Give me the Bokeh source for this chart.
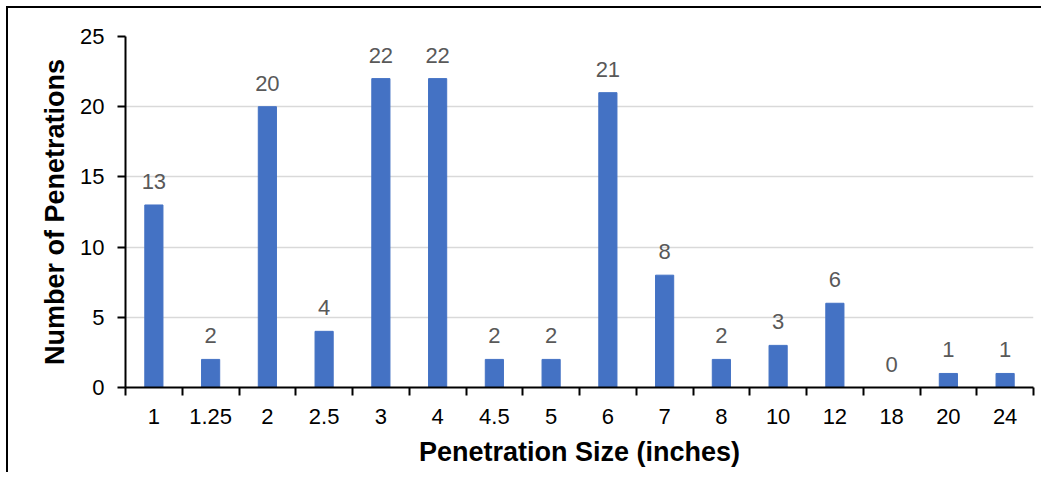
from bokeh.plotting import figure
from bokeh.models import ColumnDataSource, FixedTicker, LabelSet
from bokeh.core.properties import value
from bokeh.embed import file_html
from bokeh.resources import INLINE

sizes = ["1", "1.25", "2", "2.5", "3", "4", "4.5", "5", "6", "7", "8", "10", "12", "18", "20", "24"]
counts = [13, 2, 20, 4, 22, 22, 2, 2, 21, 8, 2, 3, 6, 0, 1, 1]

n = len(sizes)
xs = [i + 0.5 for i in range(n)]
src = ColumnDataSource(dict(x=xs, y=counts, lab=[str(c) for c in counts]))

p = figure(width=1035, height=466, output_backend="svg", toolbar_location=None,
           x_range=(0, n), y_range=(0, 25),
           min_border_left=117, min_border_top=28, min_border_right=10, min_border_bottom=87)
p.styles = {"border-left": "2px solid black", "border-top": "2px solid black",
            "margin-left": "6px", "margin-top": "6px"}
p.outline_line_color = None

p.vbar(x="x", top="y", width=0.32, source=src, color="#4472C4")

labels = LabelSet(x="x", y="y", text="lab", source=src, text_align="center",
                  text_baseline="bottom", y_offset=16, text_font_size="22px",
                  text_font=value("Liberation Sans"), text_color="#595959")
p.add_layout(labels)

# x axis
p.xaxis.ticker = FixedTicker(ticks=xs, minor_ticks=list(range(n + 1)))
p.xaxis.major_label_overrides = {x: s for x, s in zip(xs, sizes)}
p.xaxis.major_tick_line_color = None
p.xaxis.major_tick_out = 0
p.xaxis.major_tick_in = 0
p.xaxis.minor_tick_out = 8
p.xaxis.minor_tick_in = 0
p.xaxis.minor_tick_line_color = "black"
p.xaxis.minor_tick_line_width = 2
p.xaxis.major_label_standoff = 13
p.xaxis.axis_label = "Penetration Size (inches)"
p.xaxis.axis_label_standoff = 10

# y axis
p.yaxis.ticker = FixedTicker(ticks=[0, 5, 10, 15, 20, 25])
p.yaxis.minor_tick_line_color = None
p.yaxis.major_tick_out = 8
p.yaxis.major_tick_in = 0
p.yaxis.major_tick_line_width = 2
p.yaxis.major_label_standoff = 13
p.yaxis.axis_label = "Number of Penetrations"
p.yaxis.axis_label_standoff = 7

for ax in (p.xaxis, p.yaxis):
    ax.axis_line_color = "black"
    ax.axis_line_width = 2
    ax.major_label_text_font = "Liberation Sans"
    ax.major_label_text_font_size = "22px"
    ax.major_label_text_color = "black"
    ax.axis_label_text_font = "Liberation Sans"
    ax.axis_label_text_font_size = "27px"
    ax.axis_label_text_font_style = "bold"
    ax.axis_label_text_color = "black"

p.xgrid.grid_line_color = None
p.ygrid.grid_line_color = "#d9d9d9"
p.ygrid.grid_line_width = 1.5

open("out.html", "w").write(file_html(p, INLINE))
